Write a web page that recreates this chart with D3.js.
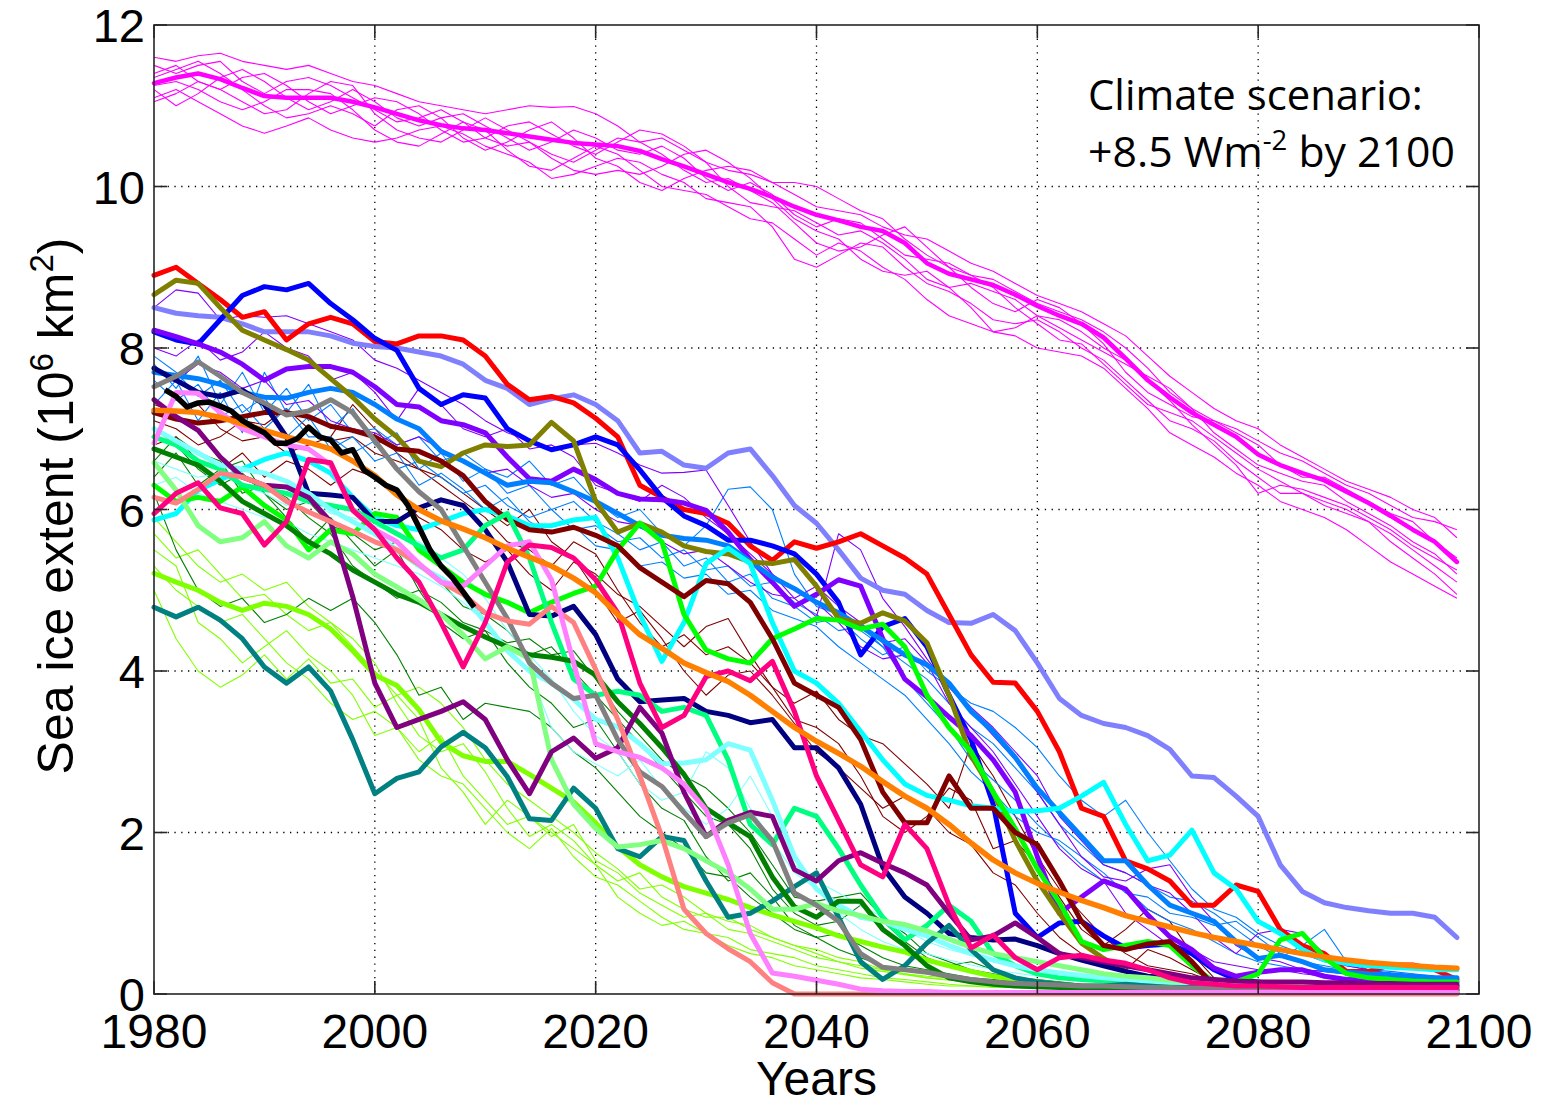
<!DOCTYPE html>
<html>
<head>
<meta charset="utf-8">
<script src="https://cdn.jsdelivr.net/npm/d3@7"></script>
<style>
  body { margin: 0; background: #fff; }
  svg { display: block; }
</style>
</head>
<body>
<svg id="chart" width="1550" height="1100"></svg>
<script>
// ---------------- data (10^6 km^2), one value every 2 years 1980..2098
var years = d3.range(1980, 2100, 2);
var obsYears = d3.range(1981, 2010);
var xTicks = [1980, 2000, 2020, 2040, 2060, 2080, 2100];
var yTicks = [0, 2, 4, 6, 8, 10, 12];

// observations (black)
var obsValues = [7.48, 7.4, 7.27, 7.32, 7.33, 7.28, 7.22, 7.1, 7.02, 6.95, 6.82, 6.82, 6.88, 7.02, 6.9,
  6.86, 6.7, 6.74, 6.49, 6.4, 6.3, 6.24, 6.05, 5.78, 5.5, 5.3, 5.16, 4.98, 4.79];

// southern / magenta group
var magentaMean = [11.28, 11.35, 11.4, 11.33, 11.22, 11.12, 11.1, 11.1, 11.1, 11.05,
  10.98, 10.9, 10.82, 10.76, 10.72, 10.7, 10.66, 10.62, 10.58, 10.54,
  10.52, 10.5, 10.44, 10.34, 10.25, 10.15, 10.05, 9.97, 9.87, 9.75,
  9.65, 9.58, 9.5, 9.45, 9.3, 9.05, 8.92, 8.85, 8.78, 8.66,
  8.52, 8.4, 8.3, 8.13, 7.87, 7.6, 7.39, 7.2, 7.05, 6.9,
  6.68, 6.55, 6.45, 6.36, 6.22, 6.08, 5.92, 5.75, 5.6, 5.35];
var magenta1 = [11.6, 11.55, 11.62, 11.65, 11.55, 11.5, 11.45, 11.5, 11.4, 11.3,
  11.25, 11.15, 11.05, 11.0, 10.95, 10.9, 10.95, 11.0, 10.98, 10.99,
  10.9, 10.75, 10.55, 10.6, 10.45, 10.3, 10.2, 10.15, 10.05, 10.05,
  10.0, 9.85, 9.7, 9.6, 9.35, 9.15, 9.0, 8.9, 8.85, 8.7,
  8.55, 8.45, 8.35, 8.2, 8.0, 7.75, 7.45, 7.25, 7.1, 7.0,
  6.85, 6.7, 6.6, 6.45, 6.3, 6.2, 6.05, 5.9, 5.85, 5.75];
var magenta2 = [11.1, 11.2, 11.05, 10.9, 10.75, 10.66, 10.75, 10.85, 10.7, 10.6,
  10.55, 10.6, 10.7, 10.75, 10.65, 10.5, 10.4, 10.3, 10.1, 10.15,
  10.25, 10.35, 10.3, 10.15, 10.05, 9.85, 9.8, 9.75, 9.5, 9.1,
  9.0, 9.15, 9.3, 9.25, 9.0, 8.8, 8.7, 8.55, 8.35, 8.3,
  8.35, 8.2, 8.0, 7.85, 7.6, 7.35, 7.1, 7.0, 6.85, 6.6,
  6.4, 6.2, 6.2, 6.1, 6.0, 5.85, 5.6, 5.4, 5.2, 4.95];
var magenta3 = [11.4, 11.5, 11.3, 11.2, 11.35, 11.4, 11.25, 11.05, 10.9, 11.0,
  11.1, 11.05, 10.9, 10.7, 10.55, 10.6, 10.75, 10.8, 10.65, 10.5,
  10.4, 10.55, 10.7, 10.65, 10.5, 10.3, 10.0, 9.8, 9.75, 9.7,
  9.55, 9.4, 9.45, 9.3, 9.1, 8.85, 8.75, 8.8, 8.7, 8.6,
  8.4, 8.25, 8.1, 7.95, 7.8, 7.65, 7.5, 7.25, 6.95, 6.75,
  6.55, 6.45, 6.35, 6.3, 6.1, 5.95, 5.8, 5.6, 5.45, 5.2];
var magenta4 = [11.2, 11.0, 11.15, 11.35, 11.45, 11.3, 11.1, 10.95, 11.05, 11.2,
  11.05, 10.85, 10.75, 10.85, 10.9, 10.75, 10.6, 10.45, 10.55, 10.7,
  10.6, 10.45, 10.4, 10.5, 10.35, 10.1, 9.95, 10.05, 9.9, 9.65,
  9.5, 9.6, 9.55, 9.35, 9.15, 9.1, 9.05, 8.9, 8.75, 8.5,
  8.3, 8.1, 8.05, 7.8, 7.55, 7.3, 7.2, 7.1, 6.9, 6.7,
  6.5, 6.35, 6.2, 6.05, 5.95, 5.85, 5.7, 5.5, 5.3, 5.1];
var magenta5 = [11.5, 11.4, 11.5, 11.55, 11.3, 11.15, 11.3, 11.35, 11.25, 11.1,
  10.95, 10.8, 10.85, 10.95, 10.8, 10.6, 10.5, 10.55, 10.4, 10.3,
  10.45, 10.6, 10.55, 10.4, 10.2, 10.05, 10.1, 9.95, 9.8, 9.55,
  9.3, 9.2, 9.25, 9.4, 9.5, 9.25, 9.0, 8.75, 8.55, 8.45,
  8.6, 8.5, 8.3, 8.05, 7.7, 7.45, 7.3, 7.15, 7.1, 6.95,
  6.8, 6.55, 6.4, 6.4, 6.25, 6.1, 5.95, 5.85, 5.6, 5.4];
var magenta6 = [11.05, 11.15, 11.3, 11.2, 11.05, 10.9, 10.95, 11.15, 11.3, 11.25,
  10.9, 10.7, 10.6, 10.55, 10.7, 10.85, 10.7, 10.55, 10.35, 10.2,
  10.15, 10.2, 10.15, 10.25, 10.4, 10.45, 10.3, 10.1, 9.85, 9.6,
  9.45, 9.35, 9.1, 8.95, 8.9, 8.95, 8.75, 8.5, 8.2, 8.25,
  8.4, 8.35, 8.2, 8.0, 7.85, 7.6, 7.35, 7.05, 6.8, 6.55,
  6.2, 6.3, 6.25, 6.15, 6.05, 5.9, 5.75, 5.55, 5.4, 5.25];
var magenta7 = [11.35, 11.45, 11.55, 11.4, 11.2, 11.0, 10.85, 10.9, 11.0, 10.9,
  10.75, 10.95, 11.0, 10.85, 10.6, 10.45, 10.55, 10.7, 10.8, 10.6,
  10.35, 10.25, 10.05, 9.95, 10.1, 10.2, 10.25, 10.2, 10.05, 9.9,
  9.75, 9.7, 9.65, 9.5, 9.4, 9.35, 9.2, 9.05, 8.95, 8.8,
  8.65, 8.55, 8.45, 8.3, 8.15, 7.9, 7.65, 7.45, 7.25, 7.1,
  7.0, 6.8, 6.65, 6.5, 6.35, 6.25, 6.15, 6.0, 5.9, 5.65];
var magenta8 = [11.25, 11.3, 11.2, 11.05, 10.95, 11.05, 11.2, 11.2, 11.15, 10.95,
  10.7, 10.55, 10.5, 10.65, 10.8, 10.7, 10.45, 10.25, 10.2, 10.35,
  10.5, 10.4, 10.2, 10.0, 9.95, 9.9, 9.75, 9.6, 9.55, 9.35,
  9.15, 9.3, 9.2, 9.0, 8.85, 8.6, 8.4, 8.3, 8.2, 8.15,
  8.0, 7.95, 7.9, 7.75, 7.5, 7.25, 6.95, 6.8, 6.65, 6.45,
  6.3, 6.1, 6.0, 5.9, 5.75, 5.55, 5.35, 5.2, 5.05, 4.9];

// thick model lines
var redValues = [8.9, 9.0, 8.8, 8.6, 8.38, 8.45, 8.1, 8.3, 8.38, 8.3,
  8.08, 8.05, 8.15, 8.15, 8.1, 7.9, 7.55, 7.36, 7.4, 7.32,
  7.13, 6.9, 6.3, 6.15, 6.0, 5.95, 5.83, 5.55, 5.37, 5.6,
  5.52, 5.6, 5.7, 5.55, 5.4, 5.2, 4.7, 4.2, 3.86, 3.85,
  3.5, 3.0, 2.3, 2.2, 1.65, 1.55, 1.4, 1.1, 1.1, 1.35,
  1.27, 0.8, 0.6, 0.5, 0.28, 0.28, 0.36, 0.36, 0.3, 0.18];
var periwinkleValues = [8.5, 8.43, 8.4, 8.38, 8.3, 8.2, 8.2, 8.2, 8.15, 8.06,
  8.02, 8.0, 7.95, 7.9, 7.8, 7.6, 7.5, 7.3, 7.37, 7.42,
  7.3, 7.1, 6.7, 6.72, 6.55, 6.51, 6.7, 6.75, 6.42, 6.05,
  5.83, 5.5, 5.15, 5.0, 4.95, 4.75, 4.6, 4.59, 4.7, 4.5,
  4.1, 3.66, 3.45, 3.35, 3.3, 3.2, 3.03, 2.7, 2.68, 2.45,
  2.2, 1.6, 1.27, 1.13, 1.07, 1.03, 1.0, 1.0, 0.95, 0.7];
var blueValues = [8.2, 8.1, 8.05, 8.35, 8.65, 8.76, 8.72, 8.8, 8.55, 8.35,
  8.12, 7.97, 7.5, 7.3, 7.42, 7.38, 7.0, 6.85, 6.74, 6.8,
  6.9, 6.8, 6.49, 6.15, 5.92, 5.8, 5.62, 5.62, 5.55, 5.45,
  5.2, 4.85, 4.2, 4.55, 4.65, 4.3, 3.7, 3.15, 2.35, 1.0,
  0.7, 0.88, 0.9, 0.72, 0.57, 0.6, 0.62, 0.5, 0.3, 0.18,
  0.15, 0.12, 0.12, 0.1, 0.1, 0.1, 0.1, 0.1, 0.1, 0.1];
var oliveValues = [8.66, 8.84, 8.8, 8.5, 8.22, 8.1, 7.98, 7.85, 7.62, 7.39,
  7.12, 6.9, 6.6, 6.53, 6.7, 6.8, 6.78, 6.8, 7.08, 6.85,
  6.1, 5.72, 5.83, 5.72, 5.55, 5.48, 5.45, 5.35, 5.33, 5.38,
  5.05, 4.65, 4.59, 4.72, 4.62, 4.35, 3.7, 2.95, 2.5, 1.9,
  1.4, 1.0, 0.63, 0.44, 0.28, 0.14, 0.06, 0.04, 0.03, 0.03,
  0.03, 0.03, 0.02, 0.02, 0.02, 0.02, 0.02, 0.02, 0.02, 0.02];
var violetValues = [8.22, 8.14, 8.05, 7.95, 7.8, 7.6, 7.74, 7.77, 7.77, 7.7,
  7.52, 7.3, 7.27, 7.1, 7.05, 6.95, 6.65, 6.38, 6.35, 6.5,
  6.37, 6.2, 6.13, 6.12, 6.08, 5.99, 5.72, 5.38, 5.1, 4.8,
  4.95, 5.13, 5.05, 4.4, 3.9, 3.68, 3.43, 3.2, 2.9, 2.5,
  1.7, 1.0, 1.2, 1.4, 1.3, 0.98, 0.71, 0.55, 0.32, 0.22,
  0.27, 0.3, 0.3, 0.22, 0.18, 0.15, 0.15, 0.15, 0.15, 0.15];
var dodgerValues = [7.7, 7.66, 7.62, 7.55, 7.45, 7.39, 7.38, 7.45, 7.5, 7.45,
  7.3, 7.12, 7.0, 6.72, 6.6, 6.45, 6.3, 6.35, 6.33, 6.22,
  6.1, 5.95, 5.8, 5.68, 5.64, 5.62, 5.55, 5.36, 5.16, 5.02,
  4.85, 4.72, 4.55, 4.38, 4.2, 4.08, 3.85, 3.5, 3.25, 2.93,
  2.55, 2.25, 1.95, 1.65, 1.65, 1.35, 1.1, 1.0, 0.9, 0.65,
  0.44, 0.48, 0.4, 0.3, 0.27, 0.25, 0.24, 0.22, 0.2, 0.2];
var maroonValues = [7.2, 7.12, 7.07, 7.1, 7.15, 7.2, 7.2, 7.15, 7.03, 6.98,
  6.9, 6.75, 6.72, 6.6, 6.42, 6.1, 5.88, 5.75, 5.72, 5.78,
  5.68, 5.55, 5.28, 5.1, 4.92, 5.12, 5.08, 4.85, 4.4, 3.85,
  3.7, 3.55, 3.15, 2.5, 2.12, 2.12, 2.7, 2.3, 2.3, 2.0,
  1.85, 1.4, 0.9, 0.6, 0.55, 0.62, 0.65, 0.4, 0.1, 0.04,
  0.02, 0.01, 0.01, 0.01, 0.01, 0.01, 0.01, 0.01, 0.01, 0.01];
var navyValues = [7.75, 7.6, 7.45, 7.4, 7.48, 7.3, 6.9, 6.2, 6.18, 6.15,
  5.85, 5.85, 6.02, 6.12, 6.05, 5.75, 5.35, 4.7, 4.68, 4.8,
  4.45, 3.9, 3.62, 3.64, 3.66, 3.5, 3.45, 3.36, 3.4, 3.05,
  3.05, 2.8, 2.35, 1.57, 1.2, 1.0, 0.75, 0.7, 0.67, 0.68,
  0.6, 0.5, 0.42, 0.35, 0.28, 0.22, 0.2, 0.18, 0.15, 0.14,
  0.13, 0.12, 0.12, 0.11, 0.11, 0.1, 0.1, 0.1, 0.1, 0.1];
var orangeValues = [7.23, 7.22, 7.2, 7.14, 7.06, 6.98, 6.9, 6.83, 6.75, 6.6,
  6.42, 6.18, 6.0, 5.86, 5.76, 5.65, 5.52, 5.41, 5.3, 5.15,
  4.97, 4.7, 4.45, 4.28, 4.1, 3.98, 3.87, 3.7, 3.5, 3.3,
  3.13, 2.98, 2.82, 2.63, 2.45, 2.3, 2.1, 1.87, 1.66, 1.5,
  1.37, 1.26, 1.16, 1.07, 0.97, 0.9, 0.83, 0.76, 0.7, 0.65,
  0.6, 0.55, 0.5, 0.46, 0.42, 0.39, 0.37, 0.35, 0.33, 0.32];
var cyanValues = [5.87, 5.95, 6.24, 6.37, 6.5, 6.62, 6.7, 6.6, 6.45, 6.15,
  5.9, 5.8, 5.75, 5.85, 5.95, 6.0, 5.92, 5.8, 5.8, 5.87,
  5.9, 5.4, 4.7, 4.12, 4.6, 5.33, 5.52, 5.33, 4.6, 4.0,
  3.85, 3.6, 3.25, 2.9, 2.6, 2.46, 2.4, 2.33, 2.3, 2.26,
  2.27, 2.3, 2.45, 2.62, 2.1, 1.65, 1.72, 2.03, 1.5, 1.3,
  0.9, 0.75, 0.55, 0.42, 0.38, 0.35, 0.33, 0.32, 0.3, 0.3];
var greenValues = [6.3, 6.1, 6.15, 6.1, 6.28, 6.05, 5.87, 5.5, 5.75, 5.7,
  5.95, 5.9, 5.5, 5.3, 5.1, 4.95, 4.85, 4.72, 4.85, 4.96,
  5.05, 5.5, 5.83, 5.6, 4.7, 4.26, 4.15, 4.1, 4.4, 4.52,
  4.65, 4.63, 4.52, 4.58, 4.3, 3.7, 3.3, 3.0, 2.5, 2.05,
  1.55, 1.13, 0.65, 0.55, 0.6, 0.65, 0.6, 0.35, 0.15, 0.15,
  0.25, 0.67, 0.75, 0.45, 0.25, 0.2, 0.18, 0.16, 0.15, 0.15];
var springValues = [6.9, 6.8, 6.6, 6.5, 6.3, 6.25, 6.2, 6.1, 6.05, 6.0,
  5.85, 5.7, 5.55, 5.4, 5.5, 5.8, 5.95, 5.4, 4.6, 3.9,
  3.7, 3.75, 3.7, 3.5, 3.55, 3.45, 2.9, 2.1, 1.85, 2.3,
  2.2, 1.8, 1.35, 0.95, 0.67, 0.85, 1.1, 0.9, 0.5, 0.35,
  0.25, 0.2, 0.18, 0.16, 0.15, 0.14, 0.13, 0.12, 0.11, 0.1,
  0.1, 0.1, 0.1, 0.09, 0.09, 0.09, 0.08, 0.08, 0.08, 0.08];
var deepPinkValues = [5.95, 6.2, 6.33, 6.02, 5.95, 5.56, 5.85, 6.62, 6.58, 5.99,
  5.75, 5.4, 5.1, 4.6, 4.05, 4.6, 5.35, 5.56, 5.53, 5.4,
  5.13, 4.72, 3.85, 3.3, 3.45, 3.93, 4.0, 3.88, 4.12, 3.5,
  2.7, 2.15, 1.6, 1.45, 2.1, 1.8, 1.1, 0.57, 0.73, 0.45,
  0.3, 0.45, 0.48, 0.42, 0.38, 0.3, 0.2, 0.14, 0.12, 0.1,
  0.1, 0.09, 0.08, 0.08, 0.08, 0.08, 0.08, 0.08, 0.08, 0.08];
var purpleValues = [7.36, 7.15, 6.98, 6.65, 6.4, 6.3, 6.28, 6.15, 5.85, 4.92,
  3.85, 3.3, 3.4, 3.5, 3.62, 3.4, 2.9, 2.48, 3.0, 3.17,
  2.92, 3.05, 3.55, 3.23, 2.5, 1.95, 2.15, 2.25, 2.2, 1.54,
  1.4, 1.65, 1.75, 1.62, 1.5, 1.35, 1.0, 0.67, 0.72, 0.88,
  0.7, 0.5, 0.45, 0.4, 0.35, 0.3, 0.25, 0.2, 0.18, 0.16,
  0.15, 0.15, 0.15, 0.14, 0.14, 0.13, 0.13, 0.12, 0.12, 0.12];
var tealValues = [4.79, 4.67, 4.79, 4.63, 4.4, 4.05, 3.85, 4.05, 3.75, 3.15,
  2.48, 2.67, 2.75, 3.06, 3.24, 3.05, 2.69, 2.17, 2.15, 2.55,
  2.3, 1.8, 1.7, 1.95, 1.9, 1.4, 0.95, 1.0, 1.15, 1.33,
  1.5, 0.95, 0.4, 0.18, 0.35, 0.63, 0.85, 0.55, 0.3, 0.2,
  0.15, 0.12, 0.1, 0.1, 0.12, 0.1, 0.08, 0.08, 0.07, 0.07,
  0.06, 0.06, 0.06, 0.05, 0.05, 0.05, 0.05, 0.05, 0.05, 0.05];
var limeValues = [5.21, 5.1, 5.0, 4.85, 4.75, 4.84, 4.8, 4.7, 4.52, 4.25,
  3.95, 3.82, 3.52, 3.12, 2.95, 2.88, 2.88, 2.72, 2.55, 2.38,
  2.12, 1.82, 1.6, 1.45, 1.33, 1.25, 1.17, 1.07, 0.98, 0.9,
  0.82, 0.72, 0.65, 0.58, 0.52, 0.42, 0.35, 0.28, 0.22, 0.18,
  0.15, 0.12, 0.1, 0.09, 0.08, 0.08, 0.07, 0.06, 0.06, 0.05,
  0.05, 0.05, 0.05, 0.05, 0.04, 0.04, 0.04, 0.04, 0.04, 0.04];
var lightGreenValues = [6.58, 6.24, 5.8, 5.6, 5.65, 5.85, 5.55, 5.4, 5.6, 5.45,
  5.2, 5.04, 4.88, 4.7, 4.45, 4.15, 4.3, 4.15, 2.9, 2.35,
  2.05, 1.82, 1.85, 1.9, 1.8, 1.65, 1.5, 1.3, 1.05, 1.05,
  1.12, 1.03, 0.97, 0.9, 0.86, 0.78, 0.68, 0.58, 0.5, 0.45,
  0.4, 0.35, 0.3, 0.25, 0.22, 0.2, 0.17, 0.15, 0.12, 0.1,
  0.1, 0.09, 0.09, 0.08, 0.08, 0.08, 0.07, 0.07, 0.07, 0.07];
var salmonValues = [6.15, 6.08, 6.25, 6.45, 6.4, 6.3, 6.1, 5.97, 5.85, 5.73,
  5.6, 5.5, 5.32, 5.1, 4.95, 4.72, 4.62, 4.58, 4.8, 4.6,
  4.02, 3.4, 2.7, 1.95, 1.05, 0.75, 0.56, 0.4, 0.14, 0.0,
  0, 0, 0, 0, 0, 0, 0, 0, 0, 0,
  0, 0, 0, 0, 0, 0, 0, 0, 0, 0,
  0, 0, 0, 0, 0, 0, 0, 0, 0, 0];
var pinkVioletValues = [6.82, 7.45, 7.44, 7.2, 7.0, 6.9, 6.8, 6.75, 6.55, 6.0,
  5.75, 5.6, 5.33, 5.1, 5.05, 5.3, 5.55, 5.6, 5.13, 4.1,
  3.1, 3.0, 2.93, 2.8, 2.6, 2.28, 1.6, 0.75, 0.26, 0.22,
  0.17, 0.12, 0.06, 0.04, 0.03, 0.03, 0.02, 0.02, 0.02, 0.02,
  0.02, 0.02, 0.02, 0.02, 0.02, 0.02, 0.02, 0.02, 0.02, 0.02,
  0.02, 0.02, 0.02, 0.02, 0.02, 0.02, 0.02, 0.02, 0.02, 0.02];
var grayValues = [7.52, 7.65, 7.83, 7.65, 7.45, 7.32, 7.17, 7.22, 7.36, 7.2,
  6.85, 6.5, 6.22, 6.0, 5.55, 5.1, 4.65, 4.1, 3.85, 3.66,
  3.7, 3.15, 2.75, 2.57, 2.25, 1.95, 2.12, 2.22, 1.9, 1.25,
  1.1, 0.9, 0.5, 0.33, 0.3, 0.27, 0.22, 0.18, 0.15, 0.13,
  0.12, 0.11, 0.1, 0.1, 0.09, 0.08, 0.08, 0.07, 0.07, 0.06,
  0.06, 0.06, 0.05, 0.05, 0.05, 0.05, 0.05, 0.05, 0.05, 0.05];
var darkGreenValues = [6.75, 6.65, 6.55, 6.35, 6.1, 5.95, 5.8, 5.6, 5.45, 5.25,
  5.1, 4.95, 4.85, 4.7, 4.55, 4.42, 4.3, 4.2, 4.17, 4.12,
  3.95, 3.62, 3.35, 3.05, 2.72, 2.3, 2.12, 1.95, 1.45, 1.08,
  0.95, 1.15, 1.15, 0.8, 0.6, 0.35, 0.2, 0.15, 0.12, 0.1,
  0.09, 0.08, 0.08, 0.07, 0.07, 0.06, 0.06, 0.06, 0.05, 0.05,
  0.05, 0.05, 0.05, 0.05, 0.05, 0.05, 0.05, 0.05, 0.05, 0.05];
var lightCyanValues = [7.0, 6.85, 6.7, 6.55, 6.5, 6.45, 6.35, 6.2, 6.0, 5.85,
  5.7, 5.5, 5.3, 5.15, 4.95, 4.6, 4.25, 4.0, 3.85, 3.65,
  3.4, 3.31, 3.1, 2.85, 2.86, 2.9, 3.1, 3.02, 2.4, 1.7,
  1.3, 1.1, 0.95, 0.9, 0.8, 0.72, 0.6, 0.5, 0.42, 0.35,
  0.3, 0.26, 0.23, 0.2, 0.18, 0.16, 0.15, 0.14, 0.13, 0.12,
  0.12, 0.11, 0.11, 0.1, 0.1, 0.1, 0.1, 0.1, 0.1, 0.1];

// thin ensemble members
var thinViolet1 = [8.5, 8.72, 8.68, 8.35, 8.4, 8.38, 8.4, 8.3, 8.2, 8.1,
  7.85, 7.75, 7.6, 7.45, 7.3, 7.1, 6.95, 6.85, 6.75, 6.8,
  6.82, 6.7, 6.55, 6.45, 6.46, 6.49, 6.05, 5.6, 5.2, 4.9,
  4.67, 5.7, 5.5, 4.9, 4.55, 4.15, 3.8, 3.5, 3.2, 2.9,
  2.5, 2.1, 1.7, 1.45, 1.4, 1.55, 1.6, 1.2, 0.9, 0.6,
  0.45, 0.4, 0.3, 0.28, 0.25, 0.22, 0.2, 0.2, 0.18, 0.18];
var thinViolet2 = [8.0, 7.9, 8.1, 7.85, 7.95, 8.2, 8.0, 7.9, 7.6, 7.7,
  7.45, 7.1, 7.5, 7.3, 7.0, 6.9, 7.0, 6.75, 6.8, 6.65,
  6.3, 6.2, 6.1, 6.3, 6.15, 5.9, 5.7, 5.45, 5.2, 5.0,
  4.85, 4.6, 4.3, 4.15, 4.2, 4.05, 3.85, 3.55, 3.3, 3.0,
  2.7, 2.2, 1.9, 1.6, 1.5, 1.35, 1.25, 1.0, 0.7, 0.5,
  0.75, 0.8, 0.75, 0.5, 0.35, 0.3, 0.25, 0.22, 0.2, 0.2];
var thinViolet3 = [7.55, 7.6, 7.8, 7.7, 7.5, 7.6, 7.3, 7.35, 7.1, 7.0,
  6.95, 6.8, 6.9, 6.75, 6.6, 6.45, 6.5, 6.3, 6.15, 6.2,
  6.0, 5.85, 5.8, 5.6, 5.45, 5.5, 5.3, 5.1, 4.95, 4.9,
  5.05, 4.8, 4.6, 4.35, 4.4, 4.1, 3.6, 3.3, 3.0, 2.6,
  2.2, 1.8, 1.55, 1.4, 1.0, 0.8, 0.6, 0.55, 0.4, 0.35,
  0.3, 0.3, 0.25, 0.22, 0.2, 0.2, 0.2, 0.2, 0.2, 0.2];
var thinBlue1 = [7.8, 7.5, 7.9, 7.3, 7.7, 7.2, 7.5, 7.1, 7.3, 6.95,
  7.0, 6.8, 6.9, 6.6, 6.7, 6.5, 6.4, 6.6, 6.3, 6.4,
  6.1, 5.9, 6.0, 5.7, 5.55, 5.8, 6.25, 6.28, 6.0, 5.2,
  4.8, 4.7, 4.5, 4.3, 4.1, 3.9, 3.6, 3.3, 3.1, 2.8,
  2.5, 2.1, 1.85, 1.6, 1.5, 1.35, 1.2, 1.15, 1.0, 0.8,
  0.6, 0.45, 0.6, 0.8, 0.4, 0.3, 0.25, 0.2, 0.18, 0.15];
var thinBlue2 = [7.3, 7.6, 7.1, 7.45, 6.95, 7.7, 7.2, 7.55, 7.0, 7.25,
  6.8, 6.95, 6.5, 6.7, 6.35, 6.5, 6.2, 6.3, 6.0, 6.1,
  5.85, 5.7, 5.5, 5.6, 5.3, 5.4, 5.1, 5.2, 4.9, 4.8,
  4.6, 4.65, 4.4, 4.2, 4.3, 4.0, 3.8, 3.6, 3.5, 3.3,
  3.05, 2.7, 2.4, 2.2, 2.4, 2.0, 1.65, 1.3, 1.05, 0.95,
  0.75, 0.6, 0.5, 0.4, 0.35, 0.3, 0.28, 0.25, 0.22, 0.2];
var thinBlue3 = [7.6, 7.35, 7.55, 7.15, 7.3, 7.0, 7.25, 6.9, 6.9, 6.7,
  6.85, 6.5, 6.6, 6.4, 6.2, 6.3, 6.05, 5.9, 6.0, 5.75,
  5.8, 5.6, 5.65, 5.4, 5.5, 5.25, 5.3, 5.05, 5.1, 4.85,
  4.7, 4.5, 4.55, 4.3, 3.9, 3.6, 3.3, 2.9, 2.65, 2.4,
  2.1, 1.85, 1.6, 1.4, 1.3, 1.05, 0.9, 0.8, 0.65, 0.5,
  0.4, 0.35, 0.3, 0.28, 0.25, 0.22, 0.2, 0.18, 0.17, 0.15];
var thinBlue4 = [7.9, 7.7, 7.4, 7.6, 7.2, 7.4, 6.9, 7.15, 6.75, 6.9,
  6.6, 6.7, 6.3, 6.45, 6.25, 6.0, 6.15, 5.85, 5.7, 5.8,
  5.55, 5.5, 5.3, 5.35, 5.15, 5.2, 4.95, 5.0, 4.75, 4.65,
  4.55, 4.3, 4.1, 3.9, 3.7, 3.4, 3.1, 2.75, 2.5, 2.2,
  2.0, 1.9, 1.7, 1.5, 1.25, 1.2, 1.0, 0.95, 0.85, 0.9,
  0.7, 0.5, 0.4, 0.35, 0.3, 0.27, 0.25, 0.22, 0.2, 0.18];
var thinMaroon1 = [7.1, 7.0, 6.8, 6.9, 7.1, 7.05, 7.25, 7.0, 6.85, 6.9,
  6.7, 6.6, 6.5, 6.3, 6.1, 5.9, 5.6, 5.5, 5.3, 5.6,
  5.45, 5.0, 4.6, 4.3, 4.45, 4.2, 4.3, 4.1, 3.8, 3.4,
  3.3, 3.1, 2.7, 2.2, 2.0, 2.2, 2.55, 2.4, 1.8, 1.9,
  1.6, 1.2, 0.8, 0.6, 0.8, 1.05, 0.9, 0.5, 0.2, 0.1,
  0.05, 0.03, 0.02, 0.02, 0.02, 0.02, 0.02, 0.02, 0.02, 0.02];
var thinMaroon2 = [6.8, 6.9, 6.6, 6.5, 6.7, 6.4, 6.6, 6.5, 6.3, 6.5,
  6.4, 6.2, 5.9, 5.75, 5.5, 5.35, 5.5, 5.2, 5.0, 5.35,
  5.2, 4.95, 4.8, 4.55, 4.3, 4.55, 4.65, 4.2, 3.8, 3.6,
  3.75, 3.4, 3.2, 3.1, 2.85, 2.6, 2.3, 3.1, 2.7, 2.2,
  1.7, 1.3, 1.0, 0.7, 0.5, 0.35, 0.3, 0.25, 0.15, 0.1,
  0.08, 0.06, 0.05, 0.05, 0.05, 0.05, 0.05, 0.05, 0.05, 0.05];
var thinMaroon3 = [7.3, 7.2, 7.3, 7.0, 6.85, 6.9, 6.7, 6.8, 6.9, 7.3,
  7.0, 6.7, 6.5, 6.4, 6.2, 6.0, 5.8, 6.0, 5.6, 5.4,
  5.0, 4.6, 4.75, 4.4, 4.0, 3.7, 3.95, 4.0, 3.7, 3.35,
  3.0, 2.8, 2.55, 2.3, 2.45, 2.3, 2.0, 1.85, 1.5, 1.35,
  1.0, 0.7, 0.5, 0.4, 0.3, 0.55, 0.45, 0.3, 0.15, 0.08,
  0.04, 0.03, 0.03, 0.03, 0.03, 0.03, 0.03, 0.03, 0.03, 0.03];
var thinGreen1 = [7.0, 6.8, 6.5, 6.3, 6.45, 6.2, 6.0, 6.1, 5.8, 5.7,
  5.5, 5.6, 5.3, 5.1, 4.8, 4.7, 4.5, 4.2, 4.3, 4.0,
  3.7, 3.4, 3.1, 2.8, 2.5, 2.2, 2.1, 1.8, 1.3, 1.0,
  0.85, 0.9, 1.1, 0.9, 0.65, 0.45, 0.35, 0.4, 0.3, 0.2,
  0.15, 0.12, 0.1, 0.1, 0.08, 0.08, 0.07, 0.07, 0.06, 0.06,
  0.05, 0.05, 0.05, 0.05, 0.05, 0.05, 0.05, 0.05, 0.05, 0.05];
var thinGreen2 = [6.6, 6.9, 6.7, 6.6, 6.2, 6.3, 6.15, 5.9, 5.7, 5.3,
  5.1, 4.9, 5.0, 4.6, 4.4, 4.5, 4.1, 3.8, 3.6, 3.3,
  3.4, 3.0, 2.6, 2.3, 2.15, 1.7, 1.4, 1.5, 1.2, 0.85,
  0.7, 0.75, 0.6, 0.45, 0.35, 0.3, 0.25, 0.2, 0.18, 0.15,
  0.12, 0.1, 0.1, 0.09, 0.08, 0.08, 0.07, 0.07, 0.06, 0.06,
  0.06, 0.05, 0.05, 0.05, 0.05, 0.05, 0.05, 0.05, 0.05, 0.05];
var thinGreen3 = [6.2, 5.5, 5.0, 4.8, 4.9, 4.6, 4.7, 4.9, 4.75, 4.9,
  4.6, 4.2, 3.7, 3.8, 3.4, 3.6, 3.55, 3.5, 3.3, 3.0,
  2.8, 2.5, 2.2, 2.0, 1.8, 1.5, 1.45, 1.2, 1.0, 0.8,
  0.7, 0.55, 0.45, 0.35, 0.3, 0.25, 0.2, 0.18, 0.15, 0.12,
  0.1, 0.1, 0.09, 0.08, 0.08, 0.07, 0.07, 0.06, 0.06, 0.05,
  0.05, 0.05, 0.05, 0.05, 0.05, 0.05, 0.05, 0.05, 0.05, 0.05];
var thinGreen4 = [6.4, 6.7, 6.3, 6.5, 6.6, 6.2, 5.9, 5.6, 5.9, 5.6,
  5.3, 5.5, 5.0, 4.85, 4.6, 4.5, 4.35, 4.4, 4.2, 4.25,
  3.9, 3.5, 3.2, 2.9, 2.7, 2.55, 2.3, 2.0, 1.6, 1.2,
  1.15, 1.2, 1.25, 0.95, 0.75, 0.5, 0.4, 0.3, 0.25, 0.2,
  0.18, 0.15, 0.12, 0.1, 0.1, 0.09, 0.08, 0.08, 0.07, 0.07,
  0.06, 0.06, 0.06, 0.06, 0.06, 0.06, 0.06, 0.06, 0.06, 0.06];
var thinLime1 = [5.9, 5.6, 5.3, 5.1, 5.2, 5.0, 5.1, 4.8, 4.6, 4.3,
  4.0, 3.7, 3.8, 3.6, 3.3, 2.9, 2.6, 2.4, 2.2, 2.0,
  1.75, 1.55, 1.3, 1.35, 1.2, 1.0, 0.9, 0.85, 0.7, 0.6,
  0.5, 0.4, 0.35, 0.3, 0.25, 0.2, 0.18, 0.15, 0.12, 0.1,
  0.1, 0.09, 0.08, 0.07, 0.07, 0.06, 0.06, 0.05, 0.05, 0.05,
  0.04, 0.04, 0.04, 0.04, 0.04, 0.04, 0.04, 0.04, 0.04, 0.04];
var thinLime2 = [5.5, 5.3, 4.6, 4.4, 4.1, 4.3, 4.5, 4.2, 4.0, 3.7,
  3.2, 3.3, 3.0, 3.2, 2.7, 2.4, 2.1, 2.2, 2.0, 1.8,
  1.6, 1.2, 1.0, 0.85, 0.9, 0.75, 0.6, 0.5, 0.45, 0.35,
  0.3, 0.25, 0.2, 0.18, 0.15, 0.12, 0.1, 0.1, 0.08, 0.08,
  0.07, 0.07, 0.06, 0.06, 0.05, 0.05, 0.05, 0.04, 0.04, 0.04,
  0.04, 0.04, 0.04, 0.04, 0.04, 0.04, 0.04, 0.04, 0.04, 0.04];
var thinLime3 = [5.0, 4.4, 4.0, 3.8, 3.95, 4.2, 3.9, 4.15, 3.85, 3.9,
  3.55, 3.7, 3.4, 2.8, 2.5, 2.1, 2.4, 2.2, 1.95, 2.1,
  1.65, 1.5, 1.25, 1.1, 0.95, 1.0, 0.8, 0.75, 0.65, 0.55,
  0.45, 0.4, 0.32, 0.28, 0.24, 0.2, 0.17, 0.15, 0.12, 0.1,
  0.1, 0.09, 0.08, 0.07, 0.07, 0.06, 0.06, 0.05, 0.05, 0.05,
  0.05, 0.05, 0.05, 0.05, 0.05, 0.05, 0.05, 0.05, 0.05, 0.05];
var thinLime4 = [5.7, 5.4, 5.5, 5.2, 4.9, 4.95, 4.7, 4.5, 4.6, 4.4,
  4.1, 3.6, 3.2, 3.0, 3.1, 2.75, 2.3, 1.95, 2.1, 1.9,
  1.6, 1.4, 1.5, 1.2, 1.05, 0.95, 0.95, 0.8, 0.7, 0.6,
  0.55, 0.45, 0.4, 0.3, 0.25, 0.22, 0.2, 0.17, 0.15, 0.12,
  0.1, 0.1, 0.09, 0.08, 0.08, 0.07, 0.07, 0.06, 0.06, 0.06,
  0.05, 0.05, 0.05, 0.05, 0.05, 0.05, 0.05, 0.05, 0.05, 0.05];
var thinLime5 = [5.3, 5.0, 4.8, 4.6, 4.7, 4.4, 4.1, 3.9, 3.6, 3.4,
  3.5, 3.3, 2.9, 2.7, 2.6, 2.3, 2.0, 1.8, 2.05, 1.7,
  1.45, 1.35, 1.15, 0.95, 0.8, 0.75, 0.7, 0.55, 0.5, 0.45,
  0.35, 0.3, 0.25, 0.2, 0.18, 0.15, 0.12, 0.1, 0.1, 0.08,
  0.08, 0.07, 0.07, 0.06, 0.06, 0.05, 0.05, 0.05, 0.04, 0.04,
  0.04, 0.04, 0.04, 0.04, 0.04, 0.04, 0.04, 0.04, 0.04, 0.04];
var thinLightCyan1 = [6.6, 6.5, 6.4, 6.45, 6.3, 6.2, 6.05, 6.1, 5.95, 5.9,
  5.8, 5.7, 5.6, 5.4, 5.2, 4.9, 4.5, 4.2, 3.9, 3.5,
  3.2, 3.0, 2.6, 2.4, 2.5, 3.0, 2.8, 2.3, 1.9, 1.5,
  1.3, 1.0, 0.8, 0.65, 0.55, 0.5, 0.42, 0.36, 0.3, 0.26,
  0.22, 0.2, 0.18, 0.16, 0.15, 0.14, 0.13, 0.12, 0.11, 0.1,
  0.1, 0.1, 0.1, 0.1, 0.1, 0.1, 0.1, 0.1, 0.1, 0.1];
var thinLightCyan2 = [6.3, 6.4, 6.2, 6.1, 6.0, 5.9, 5.85, 5.7, 5.6, 5.5,
  5.4, 5.3, 5.2, 5.05, 4.85, 4.6, 4.3, 4.0, 3.3, 3.0,
  2.85, 2.7, 2.9, 2.55, 2.3, 2.1, 2.3, 2.7, 2.2, 1.6,
  1.4, 1.25, 1.1, 0.95, 0.8, 0.65, 0.55, 0.48, 0.4, 0.35,
  0.3, 0.27, 0.24, 0.22, 0.2, 0.18, 0.16, 0.15, 0.14, 0.13,
  0.12, 0.12, 0.12, 0.12, 0.12, 0.12, 0.12, 0.12, 0.12, 0.12];

// series tables built from the arrays above
var thinSeries = [
  {color: "#80ff00", values: thinLime1}, {color: "#80ff00", values: thinLime2},
  {color: "#80ff00", values: thinLime3}, {color: "#80ff00", values: thinLime4},
  {color: "#80ff00", values: thinLime5},
  {color: "#008000", values: thinGreen1}, {color: "#008000", values: thinGreen2},
  {color: "#008000", values: thinGreen3}, {color: "#008000", values: thinGreen4},
  {color: "#80ffff", values: thinLightCyan1}, {color: "#80ffff", values: thinLightCyan2},
  {color: "#800000", values: thinMaroon1}, {color: "#800000", values: thinMaroon2},
  {color: "#800000", values: thinMaroon3},
  {color: "#0080ff", values: thinBlue1}, {color: "#0080ff", values: thinBlue2},
  {color: "#0080ff", values: thinBlue3}, {color: "#0080ff", values: thinBlue4},
  {color: "#8000ff", values: thinViolet1}, {color: "#8000ff", values: thinViolet2},
  {color: "#8000ff", values: thinViolet3},
  {color: "#ff00ff", values: magenta1}, {color: "#ff00ff", values: magenta2},
  {color: "#ff00ff", values: magenta3}, {color: "#ff00ff", values: magenta4},
  {color: "#ff00ff", values: magenta5}, {color: "#ff00ff", values: magenta6},
  {color: "#ff00ff", values: magenta7}, {color: "#ff00ff", values: magenta8}
];

var thickSeries = [
  {color: "#ff00ff", values: magentaMean, w: 4.5},
  {color: "#8080ff", values: periwinkleValues},
  {color: "#ff0000", values: redValues},
  {color: "#0000ff", values: blueValues},
  {color: "#8000ff", values: violetValues},
  {color: "#0080ff", values: dodgerValues},
  {color: "#808000", values: oliveValues},
  {color: "#00ffff", values: cyanValues},
  {color: "#00ff00", values: greenValues},
  {color: "#800000", values: maroonValues},
  {color: "#000080", values: navyValues},
  {color: "#00ff80", values: springValues},
  {color: "#80ffff", values: lightCyanValues},
  {color: "#80ff00", values: limeValues},
  {color: "#008080", values: tealValues},
  {color: "#008000", values: darkGreenValues},
  {color: "#80ff80", values: lightGreenValues},
  {color: "#800080", values: purpleValues},
  {color: "#808080", values: grayValues},
  {color: "#ff8080", values: salmonValues},
  {color: "#ff80ff", values: pinkVioletValues},
  {color: "#ff0080", values: deepPinkValues},
  {color: "#ff8000", values: orangeValues, w: 5.5}
];

//---------------------------------------
var svg = d3.select("#chart");
var plotLeft = 154, plotRight = 1479, plotTop = 25, plotBottom = 994;

var x = d3.scaleLinear().domain([1980, 2100]).range([plotLeft, plotRight]);
var y = d3.scaleLinear().domain([0, 12]).range([plotBottom, plotTop]);

svg.append("rect").attr("width", 1550).attr("height", 1100).attr("fill", "#fff");

// dotted grid
var grid = svg.append("g").attr("stroke", "#000").attr("stroke-width", 1.3)
    .attr("stroke-dasharray", "1.3,5.5");
grid.selectAll(".gx").data(xTicks.slice(1, -1)).enter().append("line")
    .attr("x1", function(d) { return x(d); }).attr("x2", function(d) { return x(d); })
    .attr("y1", plotTop).attr("y2", plotBottom);
grid.selectAll(".gy").data(yTicks.slice(1, -1)).enter().append("line")
    .attr("y1", function(d) { return y(d); }).attr("y2", function(d) { return y(d); })
    .attr("x1", plotLeft).attr("x2", plotRight);

var line = d3.line()
    .x(function(d) { return x(d[0]); })
    .y(function(d) { return y(d[1]); });

function pairs(yrs, vals) {
  return vals.map(function(v, i) { return [yrs[i], v]; });
}

var plot = svg.append("g");

plot.selectAll(".thin").data(thinSeries).enter().append("path")
    .attr("fill", "none")
    .attr("stroke", function(d) { return d.color; })
    .attr("stroke-width", 1.1)
    .attr("stroke-linejoin", "round")
    .attr("d", function(d) { return line(pairs(years, d.values)); });

plot.selectAll(".thick").data(thickSeries).enter().append("path")
    .attr("fill", "none")
    .attr("stroke", function(d) { return d.color; })
    .attr("stroke-width", function(d) { return d.w || 5; })
    .attr("stroke-linejoin", "round")
    .attr("stroke-linecap", "round")
    .attr("d", function(d) { return line(pairs(years, d.values)); });

plot.append("path")
    .attr("fill", "none")
    .attr("stroke", "#000")
    .attr("stroke-width", 5.5)
    .attr("stroke-linejoin", "round")
    .attr("d", line(pairs(obsYears, obsValues)));

// axes box + inward ticks
var axisColor = "#262626";
svg.append("rect")
    .attr("x", plotLeft).attr("y", plotTop)
    .attr("width", plotRight - plotLeft).attr("height", plotBottom - plotTop)
    .attr("fill", "none").attr("stroke", axisColor).attr("stroke-width", 1.6);

var ticks = svg.append("g").attr("stroke", axisColor).attr("stroke-width", 1.6);
xTicks.forEach(function(t) {
  ticks.append("line").attr("x1", x(t)).attr("x2", x(t)).attr("y1", plotBottom).attr("y2", plotBottom - 13);
  ticks.append("line").attr("x1", x(t)).attr("x2", x(t)).attr("y1", plotTop).attr("y2", plotTop + 13);
});
yTicks.forEach(function(t) {
  ticks.append("line").attr("y1", y(t)).attr("y2", y(t)).attr("x1", plotLeft).attr("x2", plotLeft + 13);
  ticks.append("line").attr("y1", y(t)).attr("y2", y(t)).attr("x1", plotRight).attr("x2", plotRight - 13);
});

var font = "'Liberation Sans', Arial, Helvetica, sans-serif";

svg.append("g").selectAll("text").data(yTicks).enter().append("text")
    .attr("x", plotLeft - 9)
    .attr("y", function(d) { return y(d) + 17; })
    .attr("text-anchor", "end")
    .attr("font-family", font).attr("font-size", 47)
    .text(function(d) { return d; });

svg.append("g").selectAll("text").data(xTicks).enter().append("text")
    .attr("x", function(d) { return x(d); })
    .attr("y", 1048)
    .attr("text-anchor", "middle")
    .attr("font-family", font).attr("font-size", 48)
    .text(function(d) { return d; });

svg.append("text")
    .attr("x", (plotLeft + plotRight) / 2).attr("y", 1095)
    .attr("text-anchor", "middle")
    .attr("font-family", font).attr("font-size", 48)
    .text("Years");

var ylab = svg.append("text")
    .attr("transform", "translate(73,506) rotate(-90)")
    .attr("text-anchor", "middle")
    .attr("font-family", font).attr("font-size", 50);
ylab.append("tspan").text("Sea ice extent (10");
ylab.append("tspan").attr("font-size", 33).attr("dy", -20).text("6");
ylab.append("tspan").attr("dy", 20).text(" km");
ylab.append("tspan").attr("font-size", 33).attr("dy", -20).text("2");
ylab.append("tspan").attr("dy", 20).text(")");

// annotation
var note = svg.append("g").attr("font-family", "'Open Sans', 'Noto Sans', sans-serif")
    .attr("font-size", 42).attr("fill", "#000");
var n1 = note.append("text").attr("x", 0).attr("y", 110).text("Climate scenario:");
var n2 = note.append("text").attr("x", 0).attr("y", 167);
n2.append("tspan").text("+8.5 Wm");
n2.append("tspan").attr("font-size", 27).attr("dy", -17).text("-2");
n2.append("tspan").attr("dy", 17).text(" by 2100");
var w1 = n1.node().getComputedTextLength();
n1.attr("transform", "translate(1088,0) scale(" + (335 / w1) + ",1)");
var w2 = n2.node().getComputedTextLength();
n2.attr("transform", "translate(1088,0) scale(" + (367 / w2) + ",1)");
</script>
</body>
</html>
